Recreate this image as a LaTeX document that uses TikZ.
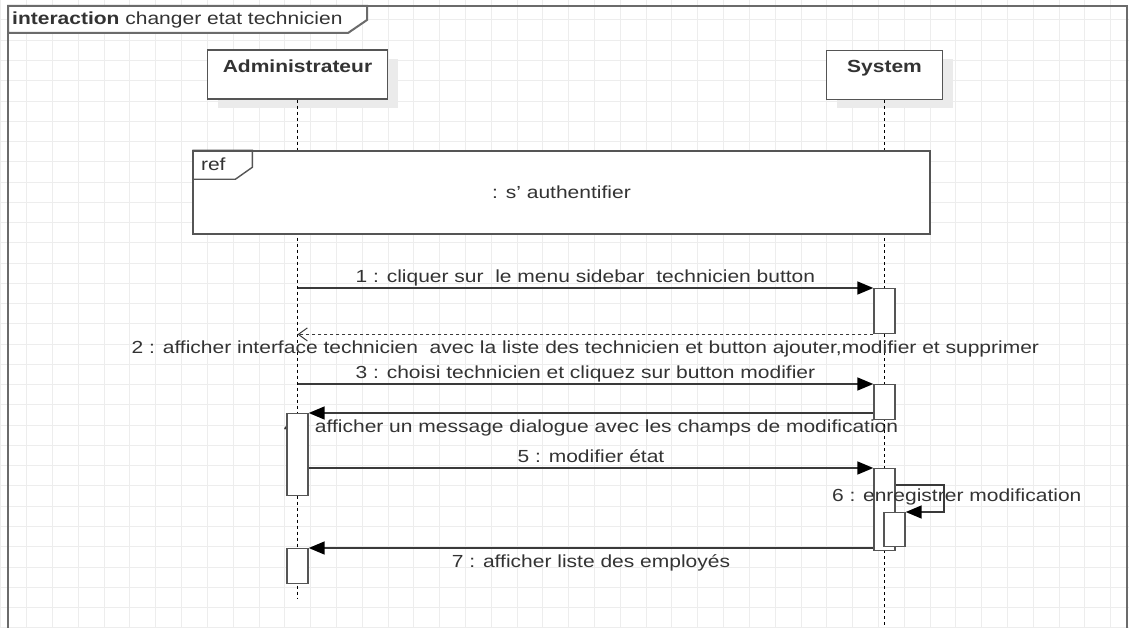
\documentclass[tikz,border=0pt]{standalone}
\usepackage{fontspec}
\setmainfont{Liberation Sans}[FakeStretch=1.2]
\usetikzlibrary{arrows.meta,shadows}

\definecolor{gridgray}{HTML}{EDEDED}
\definecolor{framegray}{HTML}{6B6B6B}
\definecolor{boxgray}{HTML}{555555}
\definecolor{msggray}{HTML}{3A3A3A}
\definecolor{txtgray}{HTML}{333333}

\newcommand{\diagfont}{\fontsize{17.5}{21}\selectfont}

\pgfdeclarelayer{grid}
\pgfdeclarelayer{under}
\pgfsetlayers{grid,under,main}

\tikzset{
	frameline/.style={draw=framegray,line width=2pt},
	boxline/.style={draw=boxgray,line width=1.4pt},
	lifehead/.style={boxline,fill=white,inner ysep=0pt,text height=22.5pt,text depth=26.5pt,font=\diagfont\bfseries,
		drop shadow={opacity=1,fill=black!8,shadow xshift=10pt,shadow yshift=-9pt}},
	lifeline/.style={draw=black,line width=1.2pt,dash pattern=on 3pt off 3pt},
	act/.style={boxline,fill=white,minimum width=21pt,inner sep=0pt,anchor=north},
	msg/.style={draw=msggray,line width=1.6pt,-{Triangle[length=16pt,width=13pt,color=black]}},
	reply/.style={draw=msggray,line width=1pt,dash pattern=on 3pt off 3pt,-{Straight Barb[length=9pt,width=13pt]}},
	msgtext/.style={inner sep=2pt,text height=.75em,text depth=.25em}
}

\begin{document}
\begin{tikzpicture}[x=1pt,y=-1pt,font=\diagfont,text=txtgray]
\useasboundingbox (0,0) rectangle (1129,628);

% grid
\begin{pgfonlayer}{grid}
	\foreach \i in {0,...,43}
		\draw[gridgray,line width=1pt] ({0.9+25.81*\i},0) -- ({0.9+25.81*\i},628);
	\foreach \j in {0,...,30}
		\draw[gridgray,line width=1pt] (0,{20+20.26*\j}) -- (1129,{20+20.26*\j});
\end{pgfonlayer}

% frame
\draw[frameline] (8,660) -- (8,6) -- (1127,6) -- (1127,660);
\draw[frameline,fill=white] (8,6) -- (367,6) -- (367,20) -- (348,33) -- (8,33) -- cycle;
\node[anchor=base west,inner sep=0pt] (title) at (12,25) {\textbf{interaction} changer etat technicien};

% lifelines
\node[lifehead,minimum width=180pt] (admin) at (297.5,74.5) {Administrateur};
\node[lifehead,minimum width=116pt] (system) at (884.5,75) {System};
\coordinate (admend) at (297.5,598);
\coordinate (sysend) at (884.5,660);
\draw[lifeline] (admin) -- (admend);
\draw[lifeline] (system) -- (sysend);

% ref
\node[boxline,fill=white,minimum width=737pt,minimum height=83pt] (auth) at (561.5,192.5) {: s' authentifier};
\draw[boxline] (auth.north west) -- ++(60,0) -- ++(0,17) -- ++(-17,12) -- ++(-43,0);
\node[inner sep=0pt,anchor=base] (reftag) at ([xshift=21pt,yshift=-20pt]auth.north west) {ref};

% activations
\node[act,minimum height=45pt] (sys1) at (884.5,288) {};
\node[act,minimum height=35pt] (sys2) at (884.5,384) {};
\node[act,minimum height=82pt] (adm1) at (297.5,413) {};
\node[act,minimum height=82pt] (sys3) at (884.5,468) {};
\node[act,minimum height=34pt] (sys4) at (894.5,512) {};
\node[act,minimum height=35pt] (adm2) at (297.5,548) {};

% messages
\draw[msg] (admin |- sys1.north) -- node[msgtext,above] {1 : cliquer sur~ le menu sidebar~ technicien button} (sys1.north west);
\draw[reply] (sys1.south west) -- node[msgtext,below=9pt] {2 : afficher interface technicien~ avec la liste des technicien et button ajouter,modifier et supprimer} (admin |- sys1.south);
\draw[msg] (admin |- sys2.north) -- node[msgtext,above] {3 : choisi technicien et cliquez sur button modifier} (sys2.north west);
\begin{pgfonlayer}{under}
	\draw[msg] (sys2.west |- adm1.north) -- node[msgtext,below=9pt] {4 : afficher un message dialogue avec les champs de modification} (adm1.north east);
\end{pgfonlayer}
\draw[msg] (adm1.east |- sys3.north) -- node[msgtext,above] {5 : modifier état} (sys3.north west);
\draw[msg] ([yshift=27pt]sys4.north -| sys3.east) -- ++(48,0) |- node[msgtext,pos=.25,xshift=13pt] {6 : enregistrer modification} (sys4.north east);
\draw[msg] (sys3.west |- adm2.north) -- node[msgtext,below=9pt] {7 : afficher liste des employés} (adm2.north east);
\end{tikzpicture}
\end{document}
